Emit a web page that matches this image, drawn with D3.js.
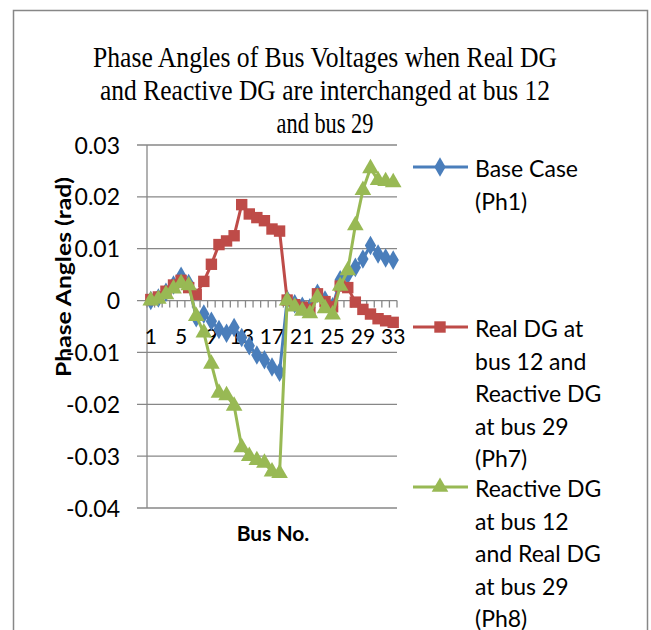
<!DOCTYPE html>
<html>
<head>
<meta charset="utf-8">
<script src="https://cdn.jsdelivr.net/npm/d3@7"></script>
<style>
  body { margin: 0; background: #fff; }
  svg { display: block; }
</style>
</head>
<body>
<div id="chart"></div>
<script>
// bus numbers 1..33
const buses = d3.range(1, 34);

// phase angles (rad)
const baseCase = [0, 0.0005, 0.0016, 0.003, 0.0047, 0.0033, -0.0033, -0.0026, -0.004, -0.0056,
  -0.0063, -0.0052, -0.0071, -0.0087, -0.0105, -0.0114, -0.0128, -0.0138, 0.0002, -0.0006,
  -0.0011, -0.0014, 0.0014, 0.0001, -0.0012, 0.004, 0.005, 0.0064, 0.008, 0.0106,
  0.009, 0.0082, 0.0078];

const ph7 = [0.0002, 0.0007, 0.0018, 0.003, 0.0039, 0.0025, 0.0012, 0.0037, 0.007, 0.0108,
  0.0115, 0.0125, 0.0185, 0.0167, 0.016, 0.0154, 0.0138, 0.0134, 0.0001, -0.0008,
  -0.0013, -0.0017, 0.0013, -0.0002, -0.0012, 0.0028, 0.0025, -0.0003, -0.0017, -0.0026,
  -0.0035, -0.0039, -0.0042];

const ph8 = [0, 0.0003, 0.0012, 0.0023, 0.0033, 0.0029, -0.003, -0.0062, -0.0122, -0.0178,
  -0.0183, -0.0203, -0.0283, -0.03, -0.0308, -0.0313, -0.033, -0.0333, 0, -0.0012,
  -0.002, -0.0025, 0.0006, -0.0015, -0.0027, 0.0028, 0.0058, 0.0145, 0.0213, 0.0255,
  0.0232, 0.023, 0.0228];

const yTicks = [0.03, 0.02, 0.01, 0, -0.01, -0.02, -0.03, -0.04];
const yTickLabels = ["0.03", "0.02", "0.01", "0", "-0.01", "-0.02", "-0.03", "-0.04"];
const xLabels = [1, 5, 9, 13, 17, 21, 25, 29, 33];

const titleLines = [
  "Phase Angles of Bus Voltages when Real DG",
  "and Reactive DG are interchanged at bus 12",
  "and bus 29"
];

const series = [
  { name: ["Base Case", "(Ph1)"], values: baseCase, colour: "#4a7ebb", marker: "diamond" },
  { name: ["Real DG at", "bus 12 and", "Reactive DG", "at bus 29", "(Ph7)"], values: ph7, colour: "#be4b48", marker: "square" },
  { name: ["Reactive DG", "at bus 12", "and Real DG", "at bus 29", "(Ph8)"], values: ph8, colour: "#98b954", marker: "triangle" }
];

const width = 651, height = 630;
const gridColour = "#878787";
const sans = "Lato, 'Open Sans', sans-serif";

const svg = d3.select("#chart").append("svg")
  .attr("width", width)
  .attr("height", height);

// chart border
svg.append("rect")
  .attr("x", 13.5).attr("y", 10.5)
  .attr("width", 634).attr("height", 640)
  .attr("fill", "none")
  .attr("stroke", gridColour)
  .attr("stroke-width", 1.5);

const x = d3.scaleBand().domain(buses).range([147, 397]);
const y = d3.scaleLinear().domain([-0.04, 0.03]).range([508, 145]);
const cx = d => x(d) + x.bandwidth() / 2;

// title
svg.append("g").selectAll("text")
  .data(titleLines)
  .join("text")
  .attr("x", 325)
  .attr("y", (d, i) => 67 + i * 33)
  .attr("text-anchor", "middle")
  .attr("font-family", "'Liberation Serif', 'Times New Roman', serif")
  .attr("font-size", 29)
  .attr("textLength", (d, i) => [464, 450, 97][i])
  .attr("lengthAdjust", "spacingAndGlyphs")
  .text(d => d);

// gridlines + y ticks
const yAxis = svg.append("g");
yAxis.selectAll("line")
  .data(yTicks)
  .join("line")
  .attr("x1", 137).attr("x2", 397)
  .attr("y1", d => y(d)).attr("y2", d => y(d))
  .attr("stroke", gridColour)
  .attr("stroke-width", 1.3);

yAxis.selectAll("text")
  .data(yTicks)
  .join("text")
  .attr("x", 120)
  .attr("y", d => y(d) + 8.5)
  .attr("text-anchor", "end")
  .attr("font-family", sans)
  .attr("font-size", 23)
  .text((d, i) => yTickLabels[i]);

// vertical axis line
svg.append("line")
  .attr("x1", 147).attr("x2", 147)
  .attr("y1", y(0.03)).attr("y2", y(-0.04))
  .attr("stroke", gridColour)
  .attr("stroke-width", 1.3);

// category axis at zero with tick marks between categories
const xAxis = svg.append("g");
xAxis.selectAll("line.tick")
  .data(d3.range(0, buses.length + 1))
  .join("line")
  .attr("class", "tick")
  .attr("x1", i => 147 + i * x.bandwidth())
  .attr("x2", i => 147 + i * x.bandwidth())
  .attr("y1", y(0)).attr("y2", y(0) + 7)
  .attr("stroke", gridColour)
  .attr("stroke-width", 1.3);

xAxis.selectAll("text")
  .data(xLabels)
  .join("text")
  .attr("x", d => cx(d))
  .attr("y", 344)
  .attr("text-anchor", "middle")
  .attr("font-family", sans)
  .attr("font-size", 21)
  .text(d => d);

// axis titles
svg.append("text")
  .attr("transform", "translate(71,277) rotate(-90)")
  .attr("text-anchor", "middle")
  .attr("font-family", sans)
  .attr("font-weight", "bold")
  .attr("font-size", 20)
  .attr("textLength", 200)
  .attr("lengthAdjust", "spacingAndGlyphs")
  .text("Phase Angles (rad)");

svg.append("text")
  .attr("x", 273).attr("y", 541)
  .attr("text-anchor", "middle")
  .attr("font-family", sans)
  .attr("font-weight", "bold")
  .attr("font-size", 21)
  .text("Bus No.");

// markers
function markerPath(type) {
  if (type === "diamond") return d3.symbol(d3.symbolDiamond, 110)();
  if (type === "square") return d3.symbol(d3.symbolSquare, 130)();
  return d3.symbol(d3.symbolTriangle, 120)();
}

const line = d3.line()
  .x((d, i) => cx(buses[i]))
  .y(d => y(d));

const plot = svg.append("g");
series.forEach(s => {
  const g = plot.append("g");
  g.append("path")
    .datum(s.values)
    .attr("d", line)
    .attr("fill", "none")
    .attr("stroke", s.colour)
    .attr("stroke-width", 3)
    .attr("stroke-linejoin", "round");
  g.selectAll("path.mk")
    .data(s.values)
    .join("path")
    .attr("class", "mk")
    .attr("d", markerPath(s.marker))
    .attr("transform", (d, i) => `translate(${cx(buses[i])},${y(d)})`)
    .attr("fill", s.colour);
});

// legend
const legendY = [167, 327, 487];
const legend = svg.append("g");
series.forEach((s, k) => {
  const g = legend.append("g");
  g.append("line")
    .attr("x1", 413).attr("x2", 468)
    .attr("y1", legendY[k]).attr("y2", legendY[k])
    .attr("stroke", s.colour)
    .attr("stroke-width", 3);
  g.append("path")
    .attr("d", markerPath(s.marker))
    .attr("transform", `translate(440,${legendY[k]})`)
    .attr("fill", s.colour);
  g.selectAll("text")
    .data(s.name)
    .join("text")
    .attr("x", 475)
    .attr("y", (d, i) => legendY[k] + 10 + i * 32.5)
    .attr("font-family", sans)
    .attr("font-size", 23)
    .text(d => d);
});
</script>
</body>
</html>
